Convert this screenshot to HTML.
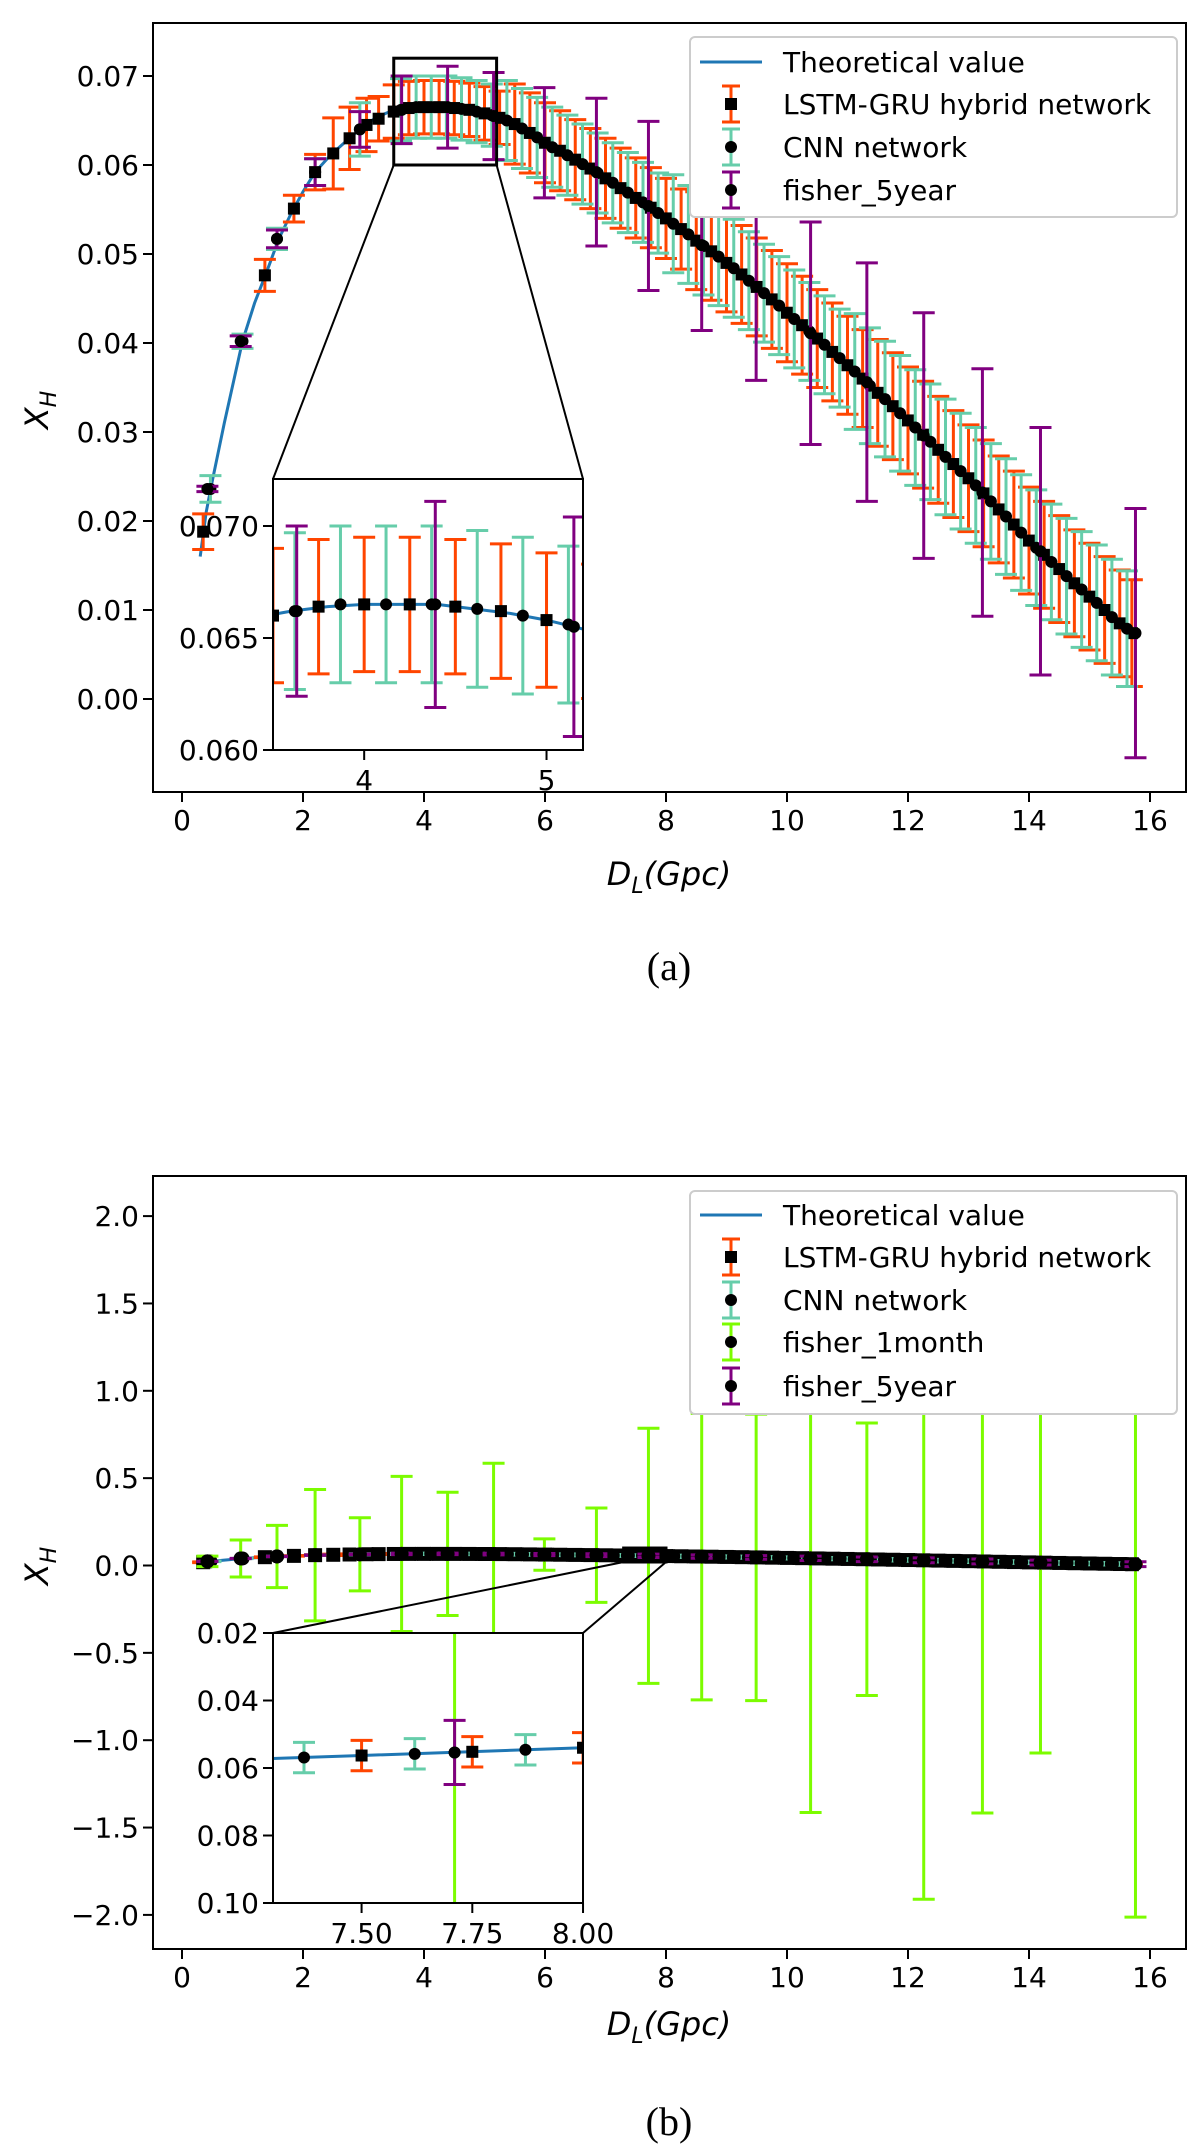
<!DOCTYPE html>
<html><head><meta charset="utf-8"><style>
html,body{margin:0;padding:0;background:#fff;overflow:hidden;}
svg{display:block;}
svg text{font-family:"DejaVu Sans","Liberation Sans",sans-serif;}
svg text.cap{font-family:"Liberation Serif",serif;}
</style></head><body>
<svg id="fig" xmlns="http://www.w3.org/2000/svg" width="1200" height="2153" viewBox="0 0 1200 2153">
<rect x="0" y="0" width="1200" height="2153" fill="#fff"/>
</svg>
<script>
// Theoretical curve
const thX=[0.3,0.4,0.5,0.7,1.0,1.2,1.4,1.6,1.8,2.0,2.2,2.4,2.6,2.8,3.0,3.2,3.4,3.6,3.8,4.0,4.2,4.4,4.6,4.8,5.0,5.2,5.5,6.0,6.5,7.0,7.5,8.0,8.5,9.0,9.5,10,10.5,11,11.5,12,12.5,13,13.5,14,14.5,15,15.5,15.8];
const thY=[0.016,0.021,0.0245,0.031,0.0402,0.0445,0.048,0.0517,0.0545,0.057,0.0592,0.0607,0.062,0.0632,0.0643,0.0653,0.0659,0.0662,0.0664,0.0665,0.0665,0.0665,0.0663,0.0661,0.0658,0.0654,0.0646,0.0625,0.0606,0.0585,0.0563,0.054,0.0515,0.049,0.0463,0.0434,0.0405,0.0375,0.0344,0.0313,0.028,0.0248,0.0213,0.0178,0.0146,0.0115,0.0085,0.0068];
// LSTM-GRU hybrid network
const lstmX=[0.35,1.37,1.85,2.2,2.5,2.77,3.05,3.25,3.5,3.75,4.0,4.25,4.5,4.75,5.0,5.25,5.5,5.75,6.0,6.25,6.5,6.75,7.0,7.25,7.5,7.75,8.0,8.25,8.5,8.75,9.0,9.25,9.5,9.75,10.0,10.25,10.5,10.75,11.0,11.25,11.5,11.75,12.0,12.25,12.5,12.75,13.0,13.25,13.5,13.75,14.0,14.25,14.5,14.75,15.0,15.25,15.5,15.7];
const lstmY=[0.0188,0.0476,0.0551,0.0592,0.0613,0.063,0.0645,0.0652,0.066,0.0664,0.0665,0.0665,0.0664,0.0662,0.0658,0.0653,0.0646,0.0636,0.0625,0.0616,0.0606,0.0596,0.0585,0.0574,0.0563,0.0552,0.054,0.0528,0.0515,0.0503,0.049,0.0477,0.0463,0.0449,0.0434,0.042,0.0405,0.039,0.0375,0.036,0.0344,0.0329,0.0313,0.0297,0.028,0.0264,0.0248,0.0231,0.0213,0.0196,0.0178,0.0162,0.0146,0.013,0.0115,0.01,0.0085,0.0074];
const lstmErr=[0.002,0.0018,0.0015,0.002,0.004,0.0035,0.003,0.0025,0.003,0.003,0.003,0.003,0.003,0.003,0.003,0.003,0.0045,0.0045,0.0045,0.0045,0.0045,0.0045,0.0045,0.0045,0.0045,0.0045,0.0045,0.0045,0.0055,0.0055,0.0055,0.0055,0.0055,0.0055,0.0055,0.0055,0.0055,0.0055,0.0055,0.0055,0.006,0.006,0.006,0.006,0.006,0.006,0.006,0.006,0.006,0.006,0.006,0.006,0.006,0.006,0.006,0.006,0.006,0.006];
// CNN network
const cnnX=[0.47,1.0,1.57,2.2,2.94,3.62,3.87,4.12,4.37,4.62,4.87,5.12,5.37,5.62,5.87,6.12,6.37,6.62,6.87,7.12,7.37,7.62,7.87,8.12,8.37,8.62,8.87,9.12,9.37,9.62,9.87,10.12,10.37,10.62,10.87,11.12,11.37,11.62,11.87,12.12,12.37,12.62,12.87,13.12,13.37,13.62,13.87,14.12,14.37,14.62,14.87,15.12,15.37,15.62];
const cnnY=[0.0236,0.0402,0.0517,0.0592,0.064,0.0662,0.0665,0.0665,0.0665,0.0663,0.066,0.0656,0.065,0.0641,0.0631,0.062,0.0611,0.0601,0.0591,0.058,0.0569,0.0558,0.0546,0.0534,0.0522,0.0509,0.0497,0.0484,0.047,0.0456,0.0442,0.0427,0.0413,0.0398,0.0383,0.0368,0.0352,0.0337,0.0321,0.0305,0.0289,0.0272,0.0256,0.024,0.0222,0.0205,0.0187,0.017,0.0154,0.0138,0.0123,0.0108,0.0092,0.0079];
const cnnErr=[0.0015,0.0008,0.0012,0.0015,0.003,0.0035,0.0035,0.0035,0.0035,0.0035,0.0035,0.0035,0.0045,0.0045,0.0045,0.0045,0.0045,0.0045,0.0045,0.0045,0.0045,0.0045,0.0045,0.0055,0.0055,0.0055,0.0055,0.0055,0.0055,0.0055,0.0055,0.0055,0.0055,0.0055,0.0055,0.0065,0.0065,0.0065,0.0065,0.0065,0.0065,0.0065,0.0065,0.0065,0.0065,0.0065,0.0065,0.0065,0.0065,0.0065,0.0065,0.0065,0.0065,0.0065];
// Fisher forecasts
const fishX=[0.42,0.97,1.57,2.2,2.94,3.63,4.39,5.15,5.99,6.85,7.71,8.59,9.49,10.39,11.32,12.26,13.23,14.19,15.76];
const fishY=[0.0236,0.0402,0.0517,0.0592,0.064,0.0662,0.0665,0.0655,0.0625,0.0592,0.0554,0.051,0.0463,0.0411,0.0356,0.0296,0.0232,0.0166,0.0074];
const fish5Err=[0.0003,0.0006,0.001,0.0015,0.002,0.0038,0.0046,0.0049,0.0062,0.0083,0.0095,0.0096,0.0105,0.0125,0.0134,0.0138,0.0139,0.0139,0.014];
const fish1mErr=[0.03,0.106,0.178,0.376,0.209,0.444,0.353,0.52,0.09,0.27,0.73,0.82,0.82,1.455,0.78,1.94,1.44,1.09,2.02];
// Ticks
const aXTicks=[0,2,4,6,8,10,12,14,16];
const aYTicks=[0.00,0.01,0.02,0.03,0.04,0.05,0.06,0.07];
const aInXTicks=[4,5];
const aInYTicks=[0.060,0.065,0.070];
const bYTicks=[-2.0,-1.5,-1.0,-0.5,0.0,0.5,1.0,1.5,2.0];
const bInXTicks=[7.50,7.75,8.00];
const bInYTicks=[0.02,0.04,0.06,0.08,0.10];

const NS='http://www.w3.org/2000/svg';
const svg=document.getElementById('fig');
function mk(tag,attrs,parent){const e=document.createElementNS(NS,tag);for(const k in attrs)e.setAttribute(k,attrs[k]);(parent||svg).appendChild(e);return e;}
const C={orange:'#ff4500',teal:'#66cdaa',purple:'#800080',lime:'#7cfc00',blue:'#1f77b4'};
let clipN=0;
function makeClip(x0,y0,x1,y1){const id='c'+(clipN++);const cp=mk('clipPath',{id:id});mk('rect',{x:x0,y:y0,width:x1-x0,height:y1-y0},cp);return id;}

function drawData(g,sx,sy,opts){
  let d='';thX.forEach((x,i)=>{d+=(i?'L':'M')+sx(x).toFixed(1)+','+sy(thY[i]).toFixed(1);});
  const ln=mk('path',{d:d,fill:'none',stroke:C.blue,'stroke-width':3},g);
  
  
  function eb(xs,ys,es,col,name,marker,msz){
    const gg=mk('g',{},g);
    
    
    xs.forEach((x,i)=>{
      const px=sx(x),y1=sy(ys[i]-es[i]),y2=sy(ys[i]+es[i]);
      mk('line',{x1:px,x2:px,y1:y1,y2:y2,stroke:col,'stroke-width':3},gg);
      mk('line',{x1:px-11,x2:px+11,y1:y1,y2:y1,stroke:col,'stroke-width':3},gg);
      mk('line',{x1:px-11,x2:px+11,y1:y2,y2:y2,stroke:col,'stroke-width':3},gg);
    });
    xs.forEach((x,i)=>{
      const px=sx(x),py=sy(ys[i]);
      if(marker==='s')mk('rect',{x:px-msz,y:py-msz,width:2*msz,height:2*msz,fill:'#000'},gg);
      else mk('circle',{cx:px,cy:py,r:msz,fill:'#000'},gg);
    });
  }
  eb(lstmX,lstmY,lstmErr,C.orange,'lstm-gru-errorbars','s',opts.ms);
  eb(cnnX,cnnY,cnnErr,C.teal,'cnn-errorbars','c',opts.ms);
  if(opts.month)eb(fishX,fishY,fish1mErr,C.lime,'fisher-1month-errorbars','c',opts.ms);
  eb(fishX,fishY,fish5Err,C.purple,'fisher-5year-errorbars','c',opts.ms);
}

function axesFrame(x0,y0,x1,y1,name){
  const r=mk('rect',{x:x0,y:y0,width:x1-x0,height:y1-y0,fill:'none',stroke:'#000','stroke-width':2});
  
  
}
function text(x,y,s,attrs,name){
  const t=mk('text',Object.assign({x:x,y:y},attrs));t.textContent=s;
  
  
  return t;
}
function yTicks(ticks,x0,sy,fmt,name){ticks.forEach(v=>{const py=sy(v);mk('line',{x1:x0-10,x2:x0,y1:py,y2:py,stroke:'#000','stroke-width':2});text(x0-14,py+10,fmt(v),{'font-size':28,'text-anchor':'end'},name);});}
function xTicks(ticks,y0,sx,fmt,name,dy){ticks.forEach(v=>{const px=sx(v);mk('line',{x1:px,x2:px,y1:y0,y2:y0+10,stroke:'#000','stroke-width':2});text(px,y0+dy,fmt(v),{'font-size':28,'text-anchor':'middle'},name);});}
function xlabel(cx,y){const t=text(cx,y,'',{'font-size':32,'text-anchor':'middle','font-style':'italic'},'x-axis-title');
  const a=mk('tspan',{},t);a.textContent='D';const b=mk('tspan',{dy:8,'font-size':22},t);b.textContent='L';const c=mk('tspan',{dy:-8},t);c.textContent='(Gpc)';}
function ylabel(x,cy){const t=text(0,0,'',{'font-size':32,'text-anchor':'middle','font-style':'italic',transform:'translate('+x+','+cy+') rotate(-90)'},'y-axis-title');
  const a=mk('tspan',{},t);a.textContent='X';const b=mk('tspan',{dy:8,'font-size':22},t);b.textContent='H';}
function legend(y0,y1,entries){
  const g=mk('g',{});
  
  
  mk('rect',{x:690,y:y0,width:487,height:y1-y0,rx:5,fill:'#fff','fill-opacity':1,stroke:'#ccc','stroke-width':2},g);
  entries.forEach(e=>{
    const ge=mk('g',{},g);
    
    
    if(e.line){mk('line',{x1:700,x2:762,y1:e.y,y2:e.y,stroke:C.blue,'stroke-width':3},ge);}
    else{mk('line',{x1:731,x2:731,y1:e.y-18,y2:e.y+18,stroke:e.col,'stroke-width':3},ge);
      mk('line',{x1:722,x2:740,y1:e.y-18,y2:e.y-18,stroke:e.col,'stroke-width':3},ge);
      mk('line',{x1:722,x2:740,y1:e.y+18,y2:e.y+18,stroke:e.col,'stroke-width':3},ge);
      if(e.m==='s')mk('rect',{x:725,y:e.y-6,width:12,height:12,fill:'#000'},ge);else mk('circle',{cx:731,cy:e.y,r:6,fill:'#000'},ge);}
    const t=mk('text',{x:783,y:e.y+10,'font-size':28},ge);t.textContent=e.label;
  });
}

// ===== Panel (a) =====
const aSx=x=>182+60.5*x, aSy=v=>699-8900*v;
const aIx=x=>273+(x-3.5)*182.35, aIy=v=>750-(v-0.06)*22400;
{
  const g=mk('g',{'clip-path':'url(#'+makeClip(153,23,1186,792)+')'});
  
  
  drawData(g,aSx,aSy,{ms:6,month:false});
  axesFrame(153,23,1186,792,'panel-a-axes');
  yTicks(aYTicks,153,aSy,v=>v.toFixed(2),'y-tick-label');
  xTicks(aXTicks,792,aSx,v=>String(v),'x-tick-label',38);
  xlabel(669,885);ylabel(48,410);
  const zr=mk('rect',{x:aSx(3.5),y:aSy(0.072),width:aSx(5.2)-aSx(3.5),height:aSy(0.06)-aSy(0.072),fill:'none',stroke:'#000','stroke-width':3});
  
  
  mk('line',{x1:273,y1:479,x2:aSx(3.5),y2:aSy(0.06),stroke:'#000','stroke-width':2});
  mk('line',{x1:583,y1:479,x2:aSx(5.2),y2:aSy(0.06),stroke:'#000','stroke-width':2});
  const bg=mk('rect',{x:273,y:479,width:310,height:271,fill:'#fff'});
  
  
  const gi=mk('g',{'clip-path':'url(#'+makeClip(273,479,583,750)+')'});
  
  
  drawData(gi,aIx,aIy,{ms:6,month:false});
  axesFrame(273,479,583,750,'inset-a-axes');
  yTicks(aInYTicks,273,aIy,v=>v.toFixed(3),'inset-y-tick-label');
  xTicks(aInXTicks,750,aIx,v=>String(v),'inset-x-tick-label',40);
  legend(37,217,[{line:1,y:62,label:'Theoretical value'},{col:C.orange,m:'s',y:104,label:'LSTM-GRU hybrid network'},{col:C.teal,m:'c',y:147,label:'CNN network'},{col:C.purple,m:'c',y:190,label:'fisher_5year'}]);
  const cap=mk('text',{x:669,y:980,'font-size':40,'text-anchor':'middle','class':'cap'});cap.textContent='(a)';
  
  
}
// ===== Panel (b) =====
const bSy=v=>1565.5-174.7*v;
const bIx=x=>273+(x-7.3)*442.9, bIy=v=>1633+(v-0.02)*3375;
{
  const g=mk('g',{'clip-path':'url(#'+makeClip(153,1176,1186,1949)+')'});
  
  
  drawData(g,aSx,bSy,{ms:7,month:true});
  axesFrame(153,1176,1186,1949,'panel-b-axes');
  yTicks(bYTicks,153,bSy,v=>(v<0?'\u2212':'')+Math.abs(v).toFixed(1),'y-tick-label');
  xTicks(aXTicks,1949,aSx,v=>String(v),'x-tick-label',38);
  xlabel(669,2035);ylabel(48,1566);
  const zr=mk('rect',{x:aSx(7.3),y:bSy(0.1),width:aSx(8)-aSx(7.3),height:bSy(0.02)-bSy(0.1),fill:'none',stroke:'#000','stroke-width':3});
  
  
  mk('line',{x1:273,y1:1633,x2:aSx(7.3),y2:bSy(0.02),stroke:'#000','stroke-width':2});
  mk('line',{x1:583,y1:1633,x2:aSx(8),y2:bSy(0.02),stroke:'#000','stroke-width':2});
  const bg=mk('rect',{x:273,y:1633,width:310,height:270,fill:'#fff'});
  
  
  const gi=mk('g',{'clip-path':'url(#'+makeClip(273,1633,583,1903)+')'});
  
  
  drawData(gi,bIx,bIy,{ms:6,month:true});
  axesFrame(273,1633,583,1903,'inset-b-axes');
  yTicks(bInYTicks,273,bIy,v=>v.toFixed(2),'inset-y-tick-label');
  xTicks(bInXTicks,1903,bIx,v=>v.toFixed(2),'inset-x-tick-label',40);
  legend(1191,1414,[{line:1,y:1215,label:'Theoretical value'},{col:C.orange,m:'s',y:1257,label:'LSTM-GRU hybrid network'},{col:C.teal,m:'c',y:1300,label:'CNN network'},{col:C.lime,m:'c',y:1342,label:'fisher_1month'},{col:C.purple,m:'c',y:1386,label:'fisher_5year'}]);
  const cap=mk('text',{x:669,y:2135,'font-size':40,'text-anchor':'middle','class':'cap'});cap.textContent='(b)';
  
  
}
</script>
</body></html>
